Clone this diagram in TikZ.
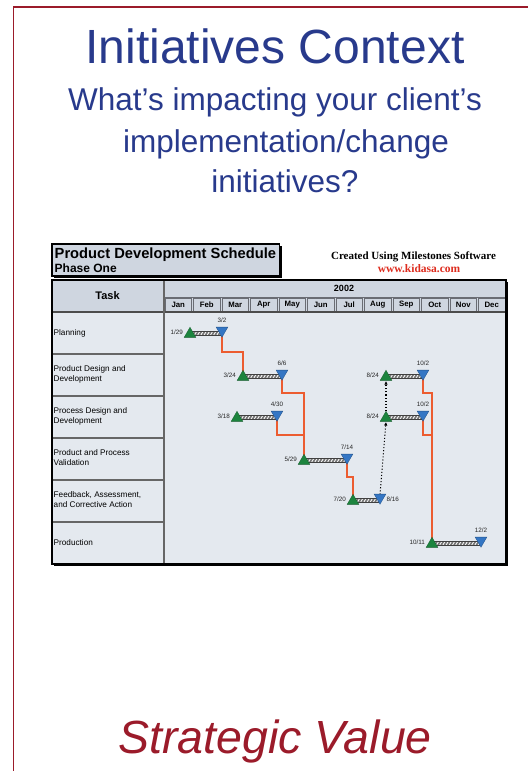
\documentclass[tikz,border=0pt]{standalone}
\usepackage{fontspec}
\setmainfont{Liberation Sans}
\newfontfamily\timesfont{Liberation Serif}
\usetikzlibrary{shapes.geometric,arrows.meta,calc}

\definecolor{slideblue}{RGB}{40,58,140}
\definecolor{slidered}{RGB}{155,27,42}
\definecolor{chartbg}{RGB}{228,233,239}
\definecolor{headbg}{RGB}{207,214,224}
\definecolor{cellline}{RGB}{105,108,115}
\definecolor{msgreen}{RGB}{28,132,62}
\definecolor{msblue}{RGB}{52,118,196}
\definecolor{linkorange}{RGB}{236,92,48}
\definecolor{webred}{RGB}{222,44,30}

\tikzset{
  sizefont/.style={font=\fontsize{#1}{#1}\selectfont},
  subline/.style={anchor=base, text=slideblue, font=\fontsize{31.5}{36}\selectfont},
  tasklabel/.style={anchor=west, align=left, inner sep=0, font=\fontsize{8.2}{10}\selectfont},
  monthlabel/.style={inner sep=0, font=\bfseries\fontsize{7.8}{8}\selectfont},
  datelabel/.style={inner sep=0, font=\fontsize{6.3}{7}\selectfont, text=black!85},
  startms/.style={regular polygon, regular polygon sides=3, fill=msgreen,
    draw=msgreen!70!black, line width=0.3, inner sep=0, minimum size=13.5pt, yshift=-1pt},
  endms/.style={regular polygon, regular polygon sides=3, shape border rotate=180,
    fill=msblue, draw=msblue!70!black, line width=0.3, inner sep=0, minimum size=13.5pt, yshift=2.5pt},
  taskbar/.style={draw=black!75, line width=0.4, fill=black!55, path picture={
      \foreach \k in {0,...,60}
        \draw[white, line width=0.8]
          ([xshift=\k*3.2pt-2pt]path picture bounding box.south west) -- ++(2.6pt,4.4pt);}},
  dlink/.style={draw=linkorange, line width=2, line join=miter},
  dep/.style={draw=black, line width=1.1, dotted, -{Latex[length=3.5pt,width=3.5pt]}},
}

\begin{document}
\begin{tikzpicture}[x=1pt, y=-1pt]
\useasboundingbox (0,0) rectangle (528,771);
\fill[white] (0,0) rectangle (528,771);

% slide frame
\draw[slidered, line width=1.3] (13.3,771) -- (13.3,7) -- (528,7);

% headings
\node[anchor=base, text=slideblue, sizefont=48] (title) at (275,63) {Initiatives Context};
\node[subline] (q1) at (275,110) {What’s impacting your client’s};
\node[subline] (q2) at (286,152) {implementation/change};
\node[subline] (q3) at (285,192) {initiatives?};

% schedule heading box
\fill[black] (53.5,245.5) rectangle (281.5,278);
\draw[black, line width=1.2, fill=headbg] (52,244) rectangle (279.5,276);
\node[anchor=base west, inner sep=0, font=\bfseries\fontsize{14.7}{15}\selectfont] (sched) at (54.5,258.5) {Product Development Schedule};
\node[anchor=base west, inner sep=0, font=\bfseries\fontsize{12}{12}\selectfont] (phase) at (54.5,272.5) {Phase One};

\node[anchor=base, font=\timesfont\bfseries\fontsize{11}{11}\selectfont] (credit) at (413.5,259.5) {Created Using Milestones Software};
\node[anchor=base, text=webred, font=\timesfont\bfseries\fontsize{11.5}{11.5}\selectfont] (web) at (419,272) {www.kidasa.com};

% schedule table
\fill[black] (53.5,281.5) rectangle (508,566);
\fill[chartbg] (52,280) rectangle (506,564);
\fill[headbg] (52,280) rectangle (506,312);
\foreach \m [count=\i from 0] in {Jan,Feb,Mar,Apr,May,Jun,Jul,Aug,Sep,Oct,Nov,Dec} {
  \draw[cellline, line width=0.6, fill=headbg] ({164+28.5*\i+1},298.5) rectangle ({164+28.5*\i+27.5},311);
  \node[monthlabel] (mon-\i) at ({164+28.5*\i+14.25},304.8) {\m};
}
\draw[cellline, line width=1] (164,297) -- (506,297);
\draw[black!70, line width=1.4] (52,312) -- (506,312);
\draw[black!60, line width=1.6] (164,280) -- (164,564);
\foreach \y in {354,396,438,480,522}
  \draw[black!60, line width=1.4] (52,\y) -- (164,\y);
\draw[black, line width=1.3] (52,280) rectangle (506,564);

\node[font=\bfseries\fontsize{11}{11}\selectfont] (taskhead) at (107.5,295.5) {Task};
\node[font=\bfseries\fontsize{9}{9}\selectfont] (year) at (344,288.5) {2002};

% task names
\node[tasklabel] (t1) at (53.5,333) {Planning};
\node[tasklabel] (t2) at (53.5,374) {Product Design and\\Development};
\node[tasklabel] (t3) at (53.5,416.5) {Process Design and\\Development};
\node[tasklabel] (t4) at (53.5,458) {Product and Process\\Validation};
\node[tasklabel] (t5) at (53.5,499.5) {Feedback, Assessment,\\and Corrective Action};
\node[tasklabel] (t6) at (53.5,543) {Production};

% task start (a) and finish (b) points
\coordinate (a1) at (190,333);  \coordinate (b1) at (222,333);
\coordinate (a2) at (243,376);  \coordinate (b2) at (282,376);
\coordinate (a2b) at (386,376); \coordinate (b2b) at (423,376);
\coordinate (a3) at (237,417);  \coordinate (b3) at (277,417);
\coordinate (a3b) at (386,417); \coordinate (b3b) at (423,417);
\coordinate (a4) at (304,460);  \coordinate (b4) at (347,460);
\coordinate (a5) at (353,500);  \coordinate (b5) at (380,500);
\coordinate (a6) at (432,543);  \coordinate (b6) at (481,543);

% levels of the dependency jogs
\coordinate (j1) at (0,352);
\coordinate (j2) at (0,393);
\coordinate (j3) at (0,435);
\coordinate (j4) at (0,477);

% dependency links
\draw[dlink] (b1) -- (b1 |- j1) -| (a2);
\draw[dlink] (b2) -- (b2 |- j2) -| (a4);
\draw[dlink] (b3) -- (b3 |- j3) -| (a4);
\draw[dlink] (b4) -- (b4 |- j4) -| (a5);
\draw[dlink] (b2b) -- (b2b |- j2) -| (a6);
\draw[dlink] (b3b) -- (b3b |- j3) -| (a6);

% task bars
\foreach \s/\e in {a1/b1,a2/b2,a2b/b2b,a3/b3,a3b/b3b,a4/b4,a5/b5,a6/b6}
  \path[taskbar] ([yshift=2.2pt]\s) rectangle ([yshift=-2.2pt]\e);

% dotted links
\draw[dep] ([yshift=5.5pt]b5) -- ([yshift=-5pt]a3b);
\draw[dep] ([yshift=6pt]a3b) -- ([yshift=-5pt]a2b);

% milestones
\foreach \p in {a1,a2,a2b,a3,a3b,a4,a5,a6}
  \node[startms] (s-\p) at (\p) {};
\foreach \p in {b1,b2,b2b,b3,b3b,b4,b5,b6}
  \node[endms] (e-\p) at (\p) {};

% milestone dates
\foreach \p/\d in {a1/{1/29},a2/{3/24},a2b/{8/24},a3/{3/18},a3b/{8/24},a4/{5/29},a5/{7/20},a6/{10/11}}
  \node[datelabel, anchor=east] (d-\p) at ([xshift=-7pt,yshift=0.5pt]\p) {\d};
\foreach \p/\d in {b1/{3/2},b2/{6/6},b2b/{10/2},b3/{4/30},b3b/{10/2},b4/{7/14},b6/{12/2}}
  \node[datelabel, anchor=base] (d-\p) at ([yshift=10.5pt]\p) {\d};
\node[datelabel, anchor=west] (d-b5) at ([xshift=6.5pt,yshift=0.5pt]b5) {8/16};

% closing line
\node[anchor=base, text=slidered, font=\itshape\fontsize{46.5}{47}\selectfont] (value) at (275,753) {Strategic Value};
\end{tikzpicture}
\end{document}
